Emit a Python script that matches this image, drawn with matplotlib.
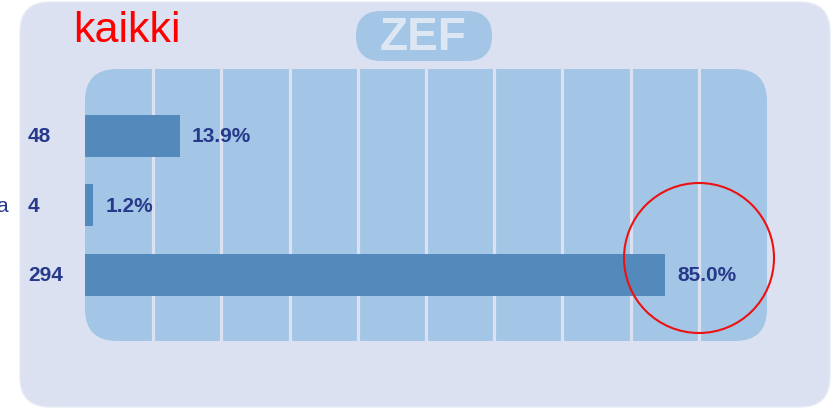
import matplotlib.pyplot as plt
from matplotlib.patches import FancyBboxPatch, Circle
from matplotlib.transforms import blended_transform_factory

# data
categorias = ["", "a", ""]
contagens = [48, 4, 294]
percentuais = [13.9, 1.2, 85.0]
titulo = "kaikki"

cor_fundo = "#dbe1f0"
cor_painel = "#a3c6e6"
cor_barra = "#5389bb"
cor_texto = "#27398a"

fig = plt.figure(figsize=(8.32, 4.10), dpi=100)
fig.patch.set_facecolor("white")

# background in pixel coordinates
bg = fig.add_axes([0, 0, 1, 1])
bg.set_xlim(0, 832)
bg.set_ylim(410, 0)
bg.axis("off")

bg.add_patch(FancyBboxPatch((20, 3), 810, 405, boxstyle="round,pad=0,rounding_size=30",
                            fc=cor_fundo, ec="#e6ebf5", lw=1))
bg.add_patch(FancyBboxPatch((85, 70), 682, 272, boxstyle="round,pad=0,rounding_size=32",
                            fc=cor_painel, ec="none"))
bg.add_patch(FancyBboxPatch((356, 12), 136, 50, boxstyle="round,pad=0,rounding_size=25",
                            fc=cor_painel, ec="none"))
bg.text(423, 38, "ZEF", color="#dde6f3", fontsize=33, fontweight="bold",
        family="Liberation Sans", ha="center", va="center")
bg.text(73, 42, titulo, color="#ff0000", fontsize=31, family="Liberation Sans",
        ha="left", va="baseline")

# bar chart
ax = fig.add_axes([85 / 832, 68 / 410, 682 / 832, 272 / 410])
ax.patch.set_alpha(0)
y = list(range(len(contagens)))
ax.barh(y, percentuais, height=0.6, color=cor_barra, zorder=2)
ax.set_xlim(0, 100)
ax.set_ylim(2.95, -0.96)
ax.set_xticks(range(10, 100, 10))
ax.grid(axis="x", color=cor_fundo, lw=2.3, zorder=1)
ax.set_axisbelow(True)
ax.tick_params(length=0, labelbottom=False, labelleft=False)
for s in ax.spines.values():
    s.set_visible(False)

trans = blended_transform_factory(ax.transAxes, ax.transData)
for i, (n, p, c) in enumerate(zip(contagens, percentuais, categorias)):
    ax.text(p + 1.8, i, f"{p:.1f}%", color=cor_texto, fontsize=15, fontweight="bold",
            family="Liberation Sans", va="center", ha="left")
    ax.text(-57 / 682, i, str(n), color=cor_texto, fontsize=15, fontweight="bold",
            family="Liberation Sans", va="center", ha="left", transform=trans)
    if c:
        ax.text(-77 / 682, i, c, color=cor_texto, fontsize=15,
                family="Liberation Sans", va="center", ha="right", transform=trans)

# red highlight circle
fig.add_artist(Circle((699, 259), 75, transform=bg.transData, fill=False,
                      ec="#ee1111", lw=1.5))

fig.savefig("out.png", dpi=100)
